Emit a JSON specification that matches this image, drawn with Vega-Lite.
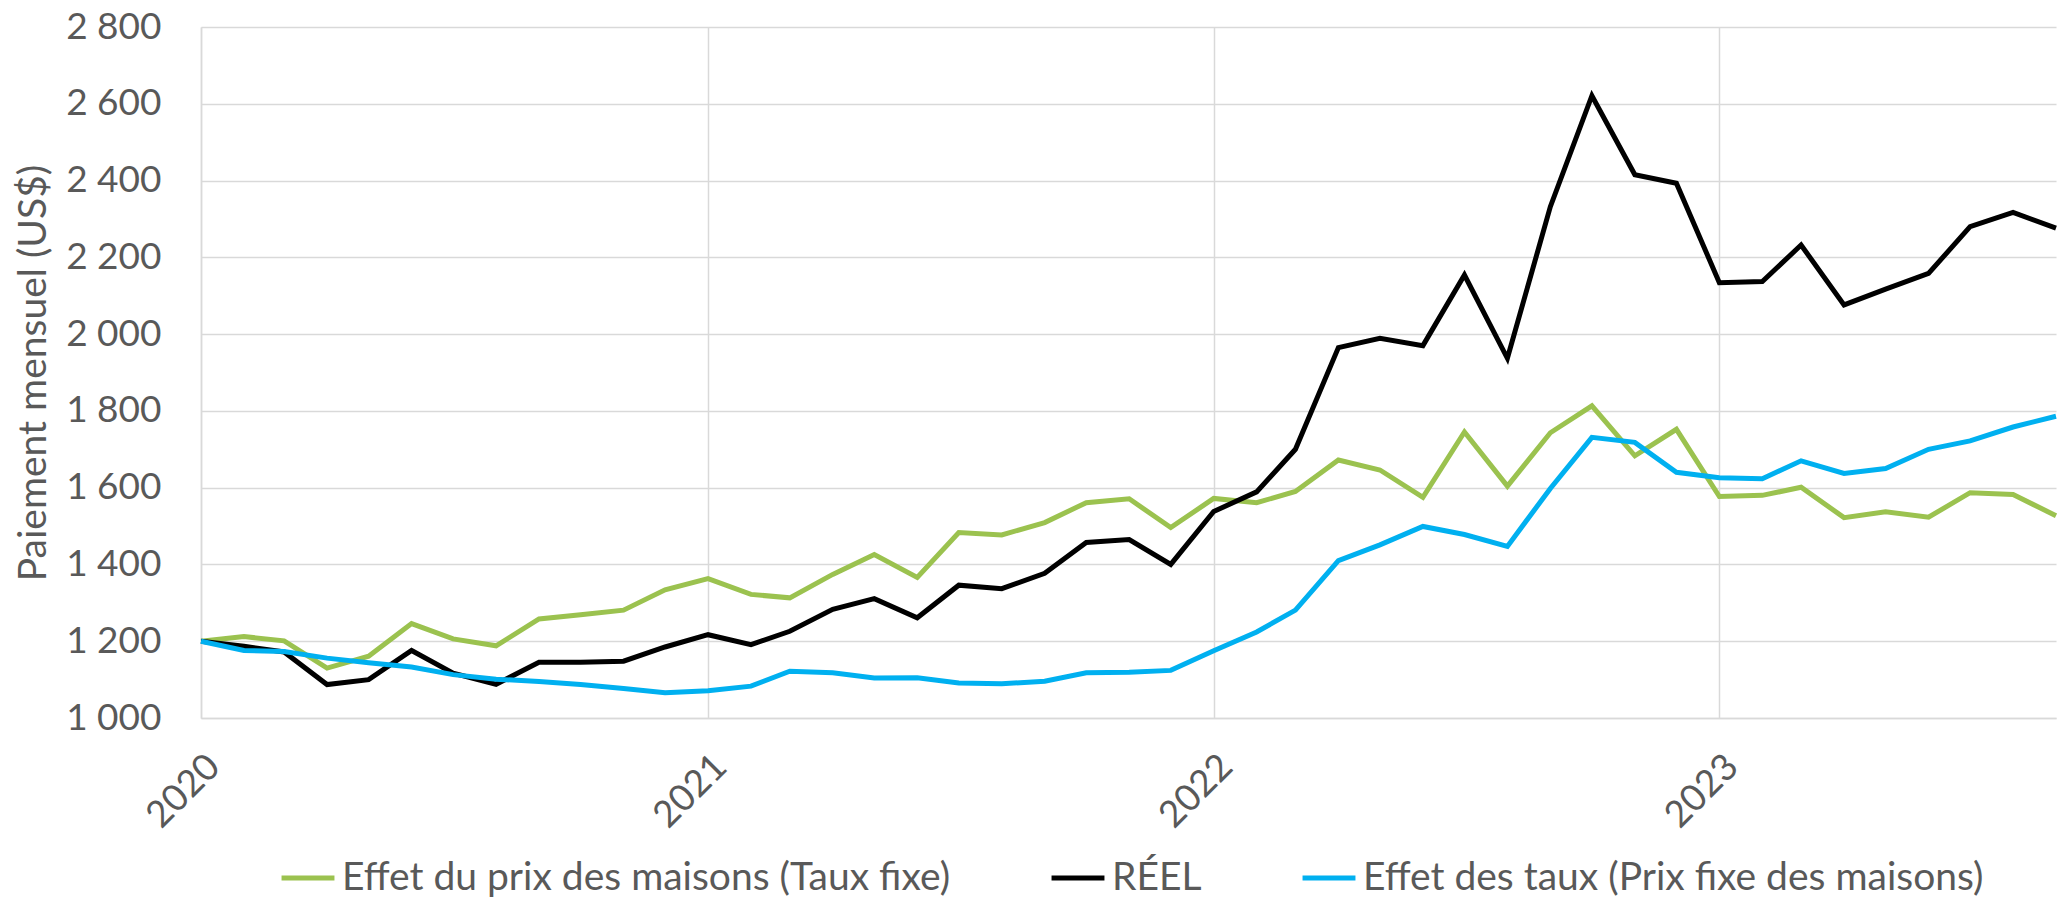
{
  "$schema": "https://vega.github.io/schema/vega-lite/v6.json",
  "autosize": {"type": "none"},
  "width": 1855,
  "height": 691,
  "padding": {"left": 201, "top": 27, "right": 5, "bottom": 182},
  "background": "white",
  "data": {
    "values": [
      {"date": "2020-01-01", "s": "Effet du prix des maisons (Taux fixe)", "v": 1200},
      {"date": "2020-02-01", "s": "Effet du prix des maisons (Taux fixe)", "v": 1212},
      {"date": "2020-03-01", "s": "Effet du prix des maisons (Taux fixe)", "v": 1201},
      {"date": "2020-04-01", "s": "Effet du prix des maisons (Taux fixe)", "v": 1130},
      {"date": "2020-05-01", "s": "Effet du prix des maisons (Taux fixe)", "v": 1161},
      {"date": "2020-06-01", "s": "Effet du prix des maisons (Taux fixe)", "v": 1246},
      {"date": "2020-07-01", "s": "Effet du prix des maisons (Taux fixe)", "v": 1206},
      {"date": "2020-08-01", "s": "Effet du prix des maisons (Taux fixe)", "v": 1188},
      {"date": "2020-09-01", "s": "Effet du prix des maisons (Taux fixe)", "v": 1258},
      {"date": "2020-10-01", "s": "Effet du prix des maisons (Taux fixe)", "v": 1269},
      {"date": "2020-11-01", "s": "Effet du prix des maisons (Taux fixe)", "v": 1281},
      {"date": "2020-12-01", "s": "Effet du prix des maisons (Taux fixe)", "v": 1334},
      {"date": "2021-01-01", "s": "Effet du prix des maisons (Taux fixe)", "v": 1363},
      {"date": "2021-02-01", "s": "Effet du prix des maisons (Taux fixe)", "v": 1322},
      {"date": "2021-03-01", "s": "Effet du prix des maisons (Taux fixe)", "v": 1313},
      {"date": "2021-04-01", "s": "Effet du prix des maisons (Taux fixe)", "v": 1374},
      {"date": "2021-05-01", "s": "Effet du prix des maisons (Taux fixe)", "v": 1426},
      {"date": "2021-06-01", "s": "Effet du prix des maisons (Taux fixe)", "v": 1366},
      {"date": "2021-07-01", "s": "Effet du prix des maisons (Taux fixe)", "v": 1483},
      {"date": "2021-08-01", "s": "Effet du prix des maisons (Taux fixe)", "v": 1477},
      {"date": "2021-09-01", "s": "Effet du prix des maisons (Taux fixe)", "v": 1509},
      {"date": "2021-10-01", "s": "Effet du prix des maisons (Taux fixe)", "v": 1561},
      {"date": "2021-11-01", "s": "Effet du prix des maisons (Taux fixe)", "v": 1571},
      {"date": "2021-12-01", "s": "Effet du prix des maisons (Taux fixe)", "v": 1496},
      {"date": "2022-01-01", "s": "Effet du prix des maisons (Taux fixe)", "v": 1572},
      {"date": "2022-02-01", "s": "Effet du prix des maisons (Taux fixe)", "v": 1561},
      {"date": "2022-03-01", "s": "Effet du prix des maisons (Taux fixe)", "v": 1590},
      {"date": "2022-04-01", "s": "Effet du prix des maisons (Taux fixe)", "v": 1672},
      {"date": "2022-05-01", "s": "Effet du prix des maisons (Taux fixe)", "v": 1646},
      {"date": "2022-06-01", "s": "Effet du prix des maisons (Taux fixe)", "v": 1575},
      {"date": "2022-07-01", "s": "Effet du prix des maisons (Taux fixe)", "v": 1745},
      {"date": "2022-08-01", "s": "Effet du prix des maisons (Taux fixe)", "v": 1604},
      {"date": "2022-09-01", "s": "Effet du prix des maisons (Taux fixe)", "v": 1743},
      {"date": "2022-10-01", "s": "Effet du prix des maisons (Taux fixe)", "v": 1813},
      {"date": "2022-11-01", "s": "Effet du prix des maisons (Taux fixe)", "v": 1683},
      {"date": "2022-12-01", "s": "Effet du prix des maisons (Taux fixe)", "v": 1752},
      {"date": "2023-01-01", "s": "Effet du prix des maisons (Taux fixe)", "v": 1577},
      {"date": "2023-02-01", "s": "Effet du prix des maisons (Taux fixe)", "v": 1580},
      {"date": "2023-03-01", "s": "Effet du prix des maisons (Taux fixe)", "v": 1601},
      {"date": "2023-04-01", "s": "Effet du prix des maisons (Taux fixe)", "v": 1522},
      {"date": "2023-05-01", "s": "Effet du prix des maisons (Taux fixe)", "v": 1537},
      {"date": "2023-06-01", "s": "Effet du prix des maisons (Taux fixe)", "v": 1523},
      {"date": "2023-07-01", "s": "Effet du prix des maisons (Taux fixe)", "v": 1587},
      {"date": "2023-08-01", "s": "Effet du prix des maisons (Taux fixe)", "v": 1582},
      {"date": "2023-09-01", "s": "Effet du prix des maisons (Taux fixe)", "v": 1527},
      {"date": "2020-01-01", "s": "RÉEL", "v": 1200},
      {"date": "2020-02-01", "s": "RÉEL", "v": 1187},
      {"date": "2020-03-01", "s": "RÉEL", "v": 1172},
      {"date": "2020-04-01", "s": "RÉEL", "v": 1087},
      {"date": "2020-05-01", "s": "RÉEL", "v": 1100},
      {"date": "2020-06-01", "s": "RÉEL", "v": 1176},
      {"date": "2020-07-01", "s": "RÉEL", "v": 1117},
      {"date": "2020-08-01", "s": "RÉEL", "v": 1088},
      {"date": "2020-09-01", "s": "RÉEL", "v": 1145},
      {"date": "2020-10-01", "s": "RÉEL", "v": 1145},
      {"date": "2020-11-01", "s": "RÉEL", "v": 1148},
      {"date": "2020-12-01", "s": "RÉEL", "v": 1185},
      {"date": "2021-01-01", "s": "RÉEL", "v": 1217},
      {"date": "2021-02-01", "s": "RÉEL", "v": 1191},
      {"date": "2021-03-01", "s": "RÉEL", "v": 1226},
      {"date": "2021-04-01", "s": "RÉEL", "v": 1283},
      {"date": "2021-05-01", "s": "RÉEL", "v": 1311},
      {"date": "2021-06-01", "s": "RÉEL", "v": 1261},
      {"date": "2021-07-01", "s": "RÉEL", "v": 1346},
      {"date": "2021-08-01", "s": "RÉEL", "v": 1337},
      {"date": "2021-09-01", "s": "RÉEL", "v": 1377},
      {"date": "2021-10-01", "s": "RÉEL", "v": 1457},
      {"date": "2021-11-01", "s": "RÉEL", "v": 1465},
      {"date": "2021-12-01", "s": "RÉEL", "v": 1400},
      {"date": "2022-01-01", "s": "RÉEL", "v": 1538},
      {"date": "2022-02-01", "s": "RÉEL", "v": 1589},
      {"date": "2022-03-01", "s": "RÉEL", "v": 1700},
      {"date": "2022-04-01", "s": "RÉEL", "v": 1965},
      {"date": "2022-05-01", "s": "RÉEL", "v": 1989},
      {"date": "2022-06-01", "s": "RÉEL", "v": 1970},
      {"date": "2022-07-01", "s": "RÉEL", "v": 2154},
      {"date": "2022-08-01", "s": "RÉEL", "v": 1937},
      {"date": "2022-09-01", "s": "RÉEL", "v": 2332},
      {"date": "2022-10-01", "s": "RÉEL", "v": 2621},
      {"date": "2022-11-01", "s": "RÉEL", "v": 2415},
      {"date": "2022-12-01", "s": "RÉEL", "v": 2393},
      {"date": "2023-01-01", "s": "RÉEL", "v": 2134},
      {"date": "2023-02-01", "s": "RÉEL", "v": 2137},
      {"date": "2023-03-01", "s": "RÉEL", "v": 2232},
      {"date": "2023-04-01", "s": "RÉEL", "v": 2076},
      {"date": "2023-05-01", "s": "RÉEL", "v": 2117},
      {"date": "2023-06-01", "s": "RÉEL", "v": 2158},
      {"date": "2023-07-01", "s": "RÉEL", "v": 2280},
      {"date": "2023-08-01", "s": "RÉEL", "v": 2317},
      {"date": "2023-09-01", "s": "RÉEL", "v": 2276},
      {"date": "2020-01-01", "s": "Effet des taux (Prix fixe des maisons)", "v": 1200},
      {"date": "2020-02-01", "s": "Effet des taux (Prix fixe des maisons)", "v": 1176},
      {"date": "2020-03-01", "s": "Effet des taux (Prix fixe des maisons)", "v": 1173},
      {"date": "2020-04-01", "s": "Effet des taux (Prix fixe des maisons)", "v": 1156},
      {"date": "2020-05-01", "s": "Effet des taux (Prix fixe des maisons)", "v": 1144},
      {"date": "2020-06-01", "s": "Effet des taux (Prix fixe des maisons)", "v": 1133},
      {"date": "2020-07-01", "s": "Effet des taux (Prix fixe des maisons)", "v": 1113},
      {"date": "2020-08-01", "s": "Effet des taux (Prix fixe des maisons)", "v": 1101},
      {"date": "2020-09-01", "s": "Effet des taux (Prix fixe des maisons)", "v": 1095},
      {"date": "2020-10-01", "s": "Effet des taux (Prix fixe des maisons)", "v": 1087},
      {"date": "2020-11-01", "s": "Effet des taux (Prix fixe des maisons)", "v": 1077},
      {"date": "2020-12-01", "s": "Effet des taux (Prix fixe des maisons)", "v": 1066},
      {"date": "2021-01-01", "s": "Effet des taux (Prix fixe des maisons)", "v": 1071},
      {"date": "2021-02-01", "s": "Effet des taux (Prix fixe des maisons)", "v": 1083},
      {"date": "2021-03-01", "s": "Effet des taux (Prix fixe des maisons)", "v": 1122},
      {"date": "2021-04-01", "s": "Effet des taux (Prix fixe des maisons)", "v": 1118},
      {"date": "2021-05-01", "s": "Effet des taux (Prix fixe des maisons)", "v": 1104},
      {"date": "2021-06-01", "s": "Effet des taux (Prix fixe des maisons)", "v": 1105},
      {"date": "2021-07-01", "s": "Effet des taux (Prix fixe des maisons)", "v": 1091},
      {"date": "2021-08-01", "s": "Effet des taux (Prix fixe des maisons)", "v": 1089},
      {"date": "2021-09-01", "s": "Effet des taux (Prix fixe des maisons)", "v": 1096},
      {"date": "2021-10-01", "s": "Effet des taux (Prix fixe des maisons)", "v": 1118},
      {"date": "2021-11-01", "s": "Effet des taux (Prix fixe des maisons)", "v": 1119},
      {"date": "2021-12-01", "s": "Effet des taux (Prix fixe des maisons)", "v": 1124},
      {"date": "2022-01-01", "s": "Effet des taux (Prix fixe des maisons)", "v": 1175},
      {"date": "2022-02-01", "s": "Effet des taux (Prix fixe des maisons)", "v": 1224},
      {"date": "2022-03-01", "s": "Effet des taux (Prix fixe des maisons)", "v": 1281},
      {"date": "2022-04-01", "s": "Effet des taux (Prix fixe des maisons)", "v": 1410},
      {"date": "2022-05-01", "s": "Effet des taux (Prix fixe des maisons)", "v": 1451},
      {"date": "2022-06-01", "s": "Effet des taux (Prix fixe des maisons)", "v": 1499},
      {"date": "2022-07-01", "s": "Effet des taux (Prix fixe des maisons)", "v": 1478},
      {"date": "2022-08-01", "s": "Effet des taux (Prix fixe des maisons)", "v": 1447},
      {"date": "2022-09-01", "s": "Effet des taux (Prix fixe des maisons)", "v": 1598},
      {"date": "2022-10-01", "s": "Effet des taux (Prix fixe des maisons)", "v": 1731},
      {"date": "2022-11-01", "s": "Effet des taux (Prix fixe des maisons)", "v": 1718},
      {"date": "2022-12-01", "s": "Effet des taux (Prix fixe des maisons)", "v": 1640},
      {"date": "2023-01-01", "s": "Effet des taux (Prix fixe des maisons)", "v": 1626},
      {"date": "2023-02-01", "s": "Effet des taux (Prix fixe des maisons)", "v": 1623},
      {"date": "2023-03-01", "s": "Effet des taux (Prix fixe des maisons)", "v": 1670},
      {"date": "2023-04-01", "s": "Effet des taux (Prix fixe des maisons)", "v": 1637},
      {"date": "2023-05-01", "s": "Effet des taux (Prix fixe des maisons)", "v": 1650},
      {"date": "2023-06-01", "s": "Effet des taux (Prix fixe des maisons)", "v": 1700},
      {"date": "2023-07-01", "s": "Effet des taux (Prix fixe des maisons)", "v": 1722},
      {"date": "2023-08-01", "s": "Effet des taux (Prix fixe des maisons)", "v": 1758},
      {"date": "2023-09-01", "s": "Effet des taux (Prix fixe des maisons)", "v": 1786}
    ]
  },
  "mark": {"type": "line", "strokeWidth": 5, "strokeJoin": "miter", "strokeCap": "butt"},
  "encoding": {
    "x": {
      "field": "date",
      "type": "temporal",
      "scale": {
        "type": "utc",
        "domain": [
          {"year": 2020, "month": 1, "date": 1, "utc": true},
          {"year": 2023, "month": 9, "date": 1, "utc": true}
        ],
        "nice": false
      },
      "axis": {
        "title": null,
        "values": [
          {"year": 2020, "month": 1, "date": 1, "utc": true},
          {"year": 2021, "month": 1, "date": 1, "utc": true},
          {"year": 2022, "month": 1, "date": 1, "utc": true},
          {"year": 2023, "month": 1, "date": 1, "utc": true}
        ],
        "format": "%Y",
        "labelAngle": -45,
        "labelPadding": 30,
        "ticks": false,
        "grid": true,
        "gridColor": "#d9d9d9",
        "gridWidth": 1.5,
        "domainColor": "#d9d9d9",
        "domainWidth": 1.5,
        "labelFont": "Lato",
        "labelFontSize": 37,
        "labelColor": "#595959",
        "labelOverlap": false,
        "labelFlush": false
      }
    },
    "y": {
      "field": "v",
      "type": "quantitative",
      "scale": {"domain": [1000, 2800], "nice": false, "zero": false},
      "axis": {
        "title": "Paiement mensuel (US$)",
        "titleFont": "Lato",
        "titleFontSize": 39,
        "titleFontWeight": "normal",
        "titleColor": "#595959",
        "titlePadding": 12,
        "values": [1000, 1200, 1400, 1600, 1800, 2000, 2200, 2400, 2600, 2800],
        "labelExpr": "replace(format(datum.value, ','), ',', ' ')",
        "ticks": false,
        "labelPadding": 40,
        "grid": true,
        "gridColor": "#d9d9d9",
        "gridWidth": 1.5,
        "domainColor": "#d9d9d9",
        "domainWidth": 1.5,
        "labelFont": "Lato",
        "labelFontSize": 37,
        "labelColor": "#595959",
        "labelOverlap": false,
        "labelFlush": false
      }
    },
    "color": {
      "field": "s",
      "type": "nominal",
      "sort": ["Effet du prix des maisons (Taux fixe)", "RÉEL", "Effet des taux (Prix fixe des maisons)"],
      "scale": {
        "domain": ["Effet du prix des maisons (Taux fixe)", "RÉEL", "Effet des taux (Prix fixe des maisons)"],
        "range": ["#9BC24F", "#000000", "#00B0F0"]
      },
      "legend": {
        "title": null,
        "orient": "none",
        "direction": "horizontal",
        "legendX": 78,
        "legendY": 822,
        "symbolType": "stroke",
        "symbolSize": 2800,
        "symbolStrokeWidth": 5,
        "labelFont": "Lato",
        "labelFontSize": 39,
        "labelColor": "#595959",
        "labelLimit": 1000,
        "labelOffset": 5,
        "columnPadding": 90
      }
    }
  },
  "config": {
    "view": {"stroke": null}
  }
}
